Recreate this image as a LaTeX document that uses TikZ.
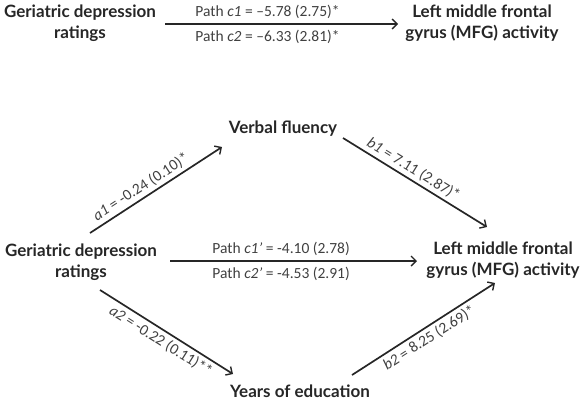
\documentclass[tikz,border=0pt]{standalone}
\usepackage{fontspec}
\setmainfont{Lato}
\newfontfamily\coeffont{Carlito}
\usetikzlibrary{arrows.meta,positioning}

\tikzset{
  varbox/.style={align=center, inner sep=2pt, text=black!85,
    font=\bfseries\fontsize{17}{21}\selectfont},
  effect/.style={-{Straight Barb[length=5pt,width=10pt,line width=1.4pt]},
    line width=1.7pt, black!85},
  coef/.style={inner sep=1pt, text=black!75,
    font=\coeffont\fontsize{15.5}{17}\selectfont},
}

\begin{document}
\begin{tikzpicture}[x=1pt,y=-1pt]
  \useasboundingbox (0,0) rectangle (583,400);

  % total effect model
  \node [varbox](gdrA) at (80,23) {Geriatric depression\\ratings};
  \node [varbox](mfgA) at (482,23) {Left middle frontal\\gyrus (MFG) activity};

  % mediation model
  \node [varbox](gdrB) at (81,262) {Geriatric depression\\ratings};
  \node [varbox](mfgB) at (503,260) {Left middle frontal\\gyrus (MFG) activity};
  \node [varbox](verbal) at (283,129) {Verbal fluency};
  \node [varbox](years) at (300,391) {Years of education};

  % paths c1, c2
  \draw [effect] ([shift={(85,1)}]gdrA.center) --
    node[coef, above=4pt, pos=.44] {Path \textit{c1} = –5.78 (2.75)*}
    node[coef, below=4pt, pos=.44] {Path \textit{c2} = –6.33 (2.81)*}
    ([shift={(-84,1)}]mfgA.center);

  % direct paths c1', c2'
  \draw [effect] ([shift={(89,-1)}]gdrB.center) --
    node[coef, above=4pt, pos=.45] {Path \textit{c1’} = -4.10 (2.78)}
    node[coef, below=4pt, pos=.45] {Path \textit{c2’} = -4.53 (2.91)}
    ([shift={(-86,1)}]mfgB.center);

  % indirect paths
  \draw [effect] ([shift={(9,-29)}]gdrB.center) --
    node[coef, sloped, above=2pt, pos=.43] {\textit{a1} = -0.24 (0.10)*}
    ([shift={(-61,18)}]verbal.center);
  \draw [effect] ([shift={(60,9)}]verbal.center) --
    node[coef, sloped, above=2pt, pos=.45] {\textit{b1} = 7.11 (2.87)*}
    ([shift={(-16,-33)}]mfgB.center);
  \draw [effect] ([shift={(19,28)}]gdrB.center) --
    node[coef, sloped, below=2pt, pos=.5] {\textit{a2} = -0.22 (0.11)**}
    ([shift={(-67,-17)}]years.center);
  \draw [effect] ([shift={(52,-16)}]years.center) --
    node[coef, sloped, below=2pt, pos=.5] {\textit{b2} = 8.25 (2.69)*}
    ([shift={(-8,23)}]mfgB.center);
\end{tikzpicture}
\end{document}
